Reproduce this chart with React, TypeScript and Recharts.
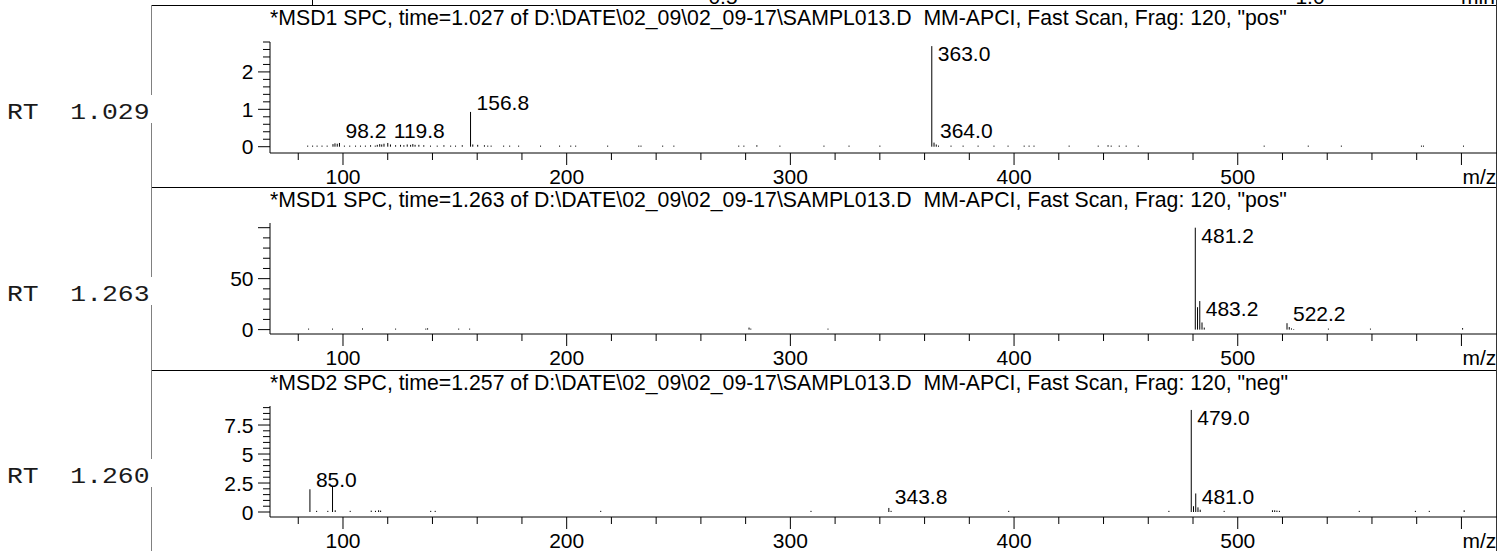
import React from 'react';
import { BarChart, Bar, XAxis, YAxis, LabelList } from 'recharts';

// ---------- data ----------
const titles = [
  '*MSD1 SPC, time=1.027 of D:\\DATE\\02_09\\02_09-17\\SAMPL013.D  MM-APCI, Fast Scan, Frag: 120, "pos"',
  '*MSD1 SPC, time=1.263 of D:\\DATE\\02_09\\02_09-17\\SAMPL013.D  MM-APCI, Fast Scan, Frag: 120, "pos"',
  '*MSD2 SPC, time=1.257 of D:\\DATE\\02_09\\02_09-17\\SAMPL013.D  MM-APCI, Fast Scan, Frag: 120, "neg"',
];
const rtLabels = ['RT  1.029', 'RT  1.263', 'RT  1.260'];

const mzTicks = [80, 100, 120, 140, 160, 180, 200, 220, 240, 260, 280, 300, 320, 340, 360, 380, 400, 420, 440, 460, 480, 500, 520, 540, 560, 580, 600];
const mzLabelTicks = [100, 200, 300, 400, 500];

// panel 1 (pos, time 1.027)
const spec1Mz = [84.0, 86.2, 88.2, 90.4, 92.7, 95.3, 96.2, 97.2, 98.2, 100.4, 102.8, 105.4, 107.6, 109.8, 112.1, 114.2, 115.1, 116.2, 117.1, 118.1, 119.8, 121.0, 123.3, 125.5, 127.0, 128.5, 130.0, 131.0, 132.0, 133.7, 135.9, 138.9, 141.9, 144.9, 147.9, 150.1, 153.1, 156.8, 157.8, 160.0, 163.0, 164.5, 166.0, 171.6, 174.3, 178.3, 188.1, 196.6, 201.6, 203.8, 218.1, 232.0, 233.0, 242.7, 247.7, 276.7, 279.0, 284.8, 295.1, 314.8, 326.0, 339.8, 363.0, 364.0, 365.0, 366.0, 371.6, 377.0, 383.7, 390.8, 397.1, 404.3, 406.5, 408.7, 424.4, 437.4, 441.8, 443.2, 446.8, 449.9, 455.3, 511.6, 531.3, 546.1, 581.9, 582.8, 600.7];
const spec1Int = [0.03, 0.03, 0.03, 0.03, 0.03, 0.07, 0.09, 0.08, 0.1, 0.03, 0.03, 0.03, 0.03, 0.03, 0.04, 0.03, 0.05, 0.07, 0.06, 0.08, 0.1, 0.06, 0.04, 0.05, 0.04, 0.06, 0.05, 0.07, 0.05, 0.05, 0.04, 0.03, 0.03, 0.04, 0.03, 0.03, 0.04, 0.93, 0.06, 0.05, 0.04, 0.03, 0.03, 0.03, 0.03, 0.03, 0.03, 0.03, 0.03, 0.03, 0.03, 0.03, 0.03, 0.03, 0.03, 0.03, 0.03, 0.04, 0.03, 0.03, 0.03, 0.03, 2.69, 0.11, 0.06, 0.03, 0.03, 0.03, 0.03, 0.03, 0.03, 0.03, 0.03, 0.03, 0.03, 0.03, 0.04, 0.03, 0.03, 0.03, 0.03, 0.03, 0.03, 0.03, 0.03, 0.03, 0.03];
const spec1Labels = ['98.2', '119.8', '156.8', '363.0', '364.0'];

// panel 2 (pos, time 1.263)
const spec2Mz = [84.8, 95.5, 108.9, 123.7, 137.2, 138.0, 151.9, 156.8, 281.7, 282.5, 317.0, 481.2, 482.2, 483.2, 484.2, 485.2, 522.2, 523.2, 524.2, 525.2, 540.7, 559.5, 600.7];
const spec2Int = [1, 1, 1.2, 1, 1, 1.3, 1, 1, 2, 1, 1, 100, 22, 28, 7, 2, 6.3, 2.5, 1.2, 0.6, 1, 1, 1.5];
const spec2Labels = ['481.2', '483.2', '522.2'];

// panel 3 (neg, time 1.257)
const spec3Mz = [85.0, 88.0, 93.0, 95.1, 96.3, 103.0, 112.4, 114.3, 115.7, 116.6, 139.0, 141.0, 215.0, 309.0, 343.8, 344.8, 397.4, 469.0, 479.0, 480.0, 481.0, 482.0, 483.0, 493.7, 515.3, 516.3, 517.3, 518.4, 554.1, 579.2, 585.4, 601.0];
const spec3Int = [1.96, 0.1, 0.1, 2.22, 0.15, 0.1, 0.12, 0.1, 0.15, 0.12, 0.1, 0.1, 0.1, 0.1, 0.35, 0.1, 0.1, 0.1, 8.8, 0.5, 1.6, 0.4, 0.2, 0.1, 0.15, 0.15, 0.12, 0.1, 0.1, 0.1, 0.1, 0.15];
const spec3Labels = ['85.0', '343.8', '479.0', '481.0'];

const yTicks1 = [0, 0.2, 0.4, 0.6, 0.8, 1, 1.2, 1.4, 1.6, 1.8, 2, 2.2, 2.4, 2.6, 2.8];
const yMajor1 = [0, 1, 2];
const yLabels1 = [0, 1, 2];
const yTicks2 = [0, 10, 20, 30, 40, 50, 60, 70, 80, 90, 100];
const yMajor2 = [0, 50, 100];
const yLabels2 = [0, 50];
const yTicks3 = [0, 0.5, 1, 1.5, 2, 2.5, 3, 3.5, 4, 4.5, 5, 5.5, 6, 6.5, 7, 7.5, 8, 8.5, 9];
const yMajor3 = [0, 2.5, 5, 7.5];
const yLabels3 = [0, 2.5, 5, 7.5];

const yDomains: [number, number][] = [[-0.168, 2.8], [-4.3, 104.6], [-0.43, 9.14]];

// labels placed above their peak top
const raisedLabels = ['156.8', '85.0'];

// cut-off chromatogram axis labels at the very top
const topFragments = [
  { text: '0.5', x: 723 },
  { text: '1.0', x: 1310 },
  { text: 'min', x: 1478 },
];

// ---------- layout ----------
const FONT = '"Liberation Sans", Arial, sans-serif';
const FS = 21;
const TITLE_FS = 21.25;
const PANEL_BORDERS = [5, 187, 370];
const CHART_TOPS = [5, 186, 369];
const RT_BASELINES = [119, 301, 483];
const CHART_LEFT = 152;
const CHART_W = 1345;
const CHART_H = 182;

function buildData(mz: number[], intensity: number[], labels: string[]) {
  return mz.map((m, i) => {
    const tag = labels.find((l) => Math.abs(parseFloat(l) - m) < 0.05) || '';
    return { mz: m, intensity: intensity[i], tag };
  });
}

const panels = [
  { data: buildData(spec1Mz, spec1Int, spec1Labels), ticks: yTicks1, major: yMajor1, labels: yLabels1 },
  { data: buildData(spec2Mz, spec2Int, spec2Labels), ticks: yTicks2, major: yMajor2, labels: yLabels2 },
  { data: buildData(spec3Mz, spec3Int, spec3Labels), ticks: yTicks3, major: yMajor3, labels: yLabels3 },
];

const StickShape = (props: any) => {
  const { x, y, width, height } = props;
  if (height == null || isNaN(height)) return null;
  const cx = x + width / 2;
  return <line x1={cx} x2={cx} y1={y} y2={y + height} stroke="#000" strokeWidth={1} />;
};

const PeakLabel = (props: any) => {
  const { x, y, width, height, value } = props;
  if (!value) return null;
  const cx = x + width / 2;
  const top = y;
  const base = y + height;
  const bottom = raisedLabels.includes(value) ? top - 2 : Math.min(top + 15, base - 8.5);
  return (
    <text x={cx + 6} y={bottom} fontFamily={FONT} fontSize={FS} fill="#000">
      {value}
    </text>
  );
};

const XTick = (props: any) => {
  const { x, y, payload } = props;
  const v = payload.value;
  const major = v % 100 === 0;
  return (
    <g>
      <line x1={x} x2={x} y1={y} y2={y + (major ? 12 : 7)} stroke="#000" strokeWidth={1} />
      {mzLabelTicks.includes(v) && (
        <text x={x} y={y + 30.5} textAnchor="middle" fontFamily={FONT} fontSize={FS} fill="#000">
          {v}
        </text>
      )}
      {v === 600 && (
        <text x={x + 1} y={y + 30.5} textAnchor="start" fontFamily={FONT} fontSize={FS} fill="#000">
          m/z
        </text>
      )}
    </g>
  );
};

const makeYTick = (major: number[], labels: number[]) => (props: any) => {
  const { x, y, payload } = props;
  const v = payload.value;
  const isMajor = major.some((m) => Math.abs(m - v) < 1e-6);
  const hasLabel = labels.some((m) => Math.abs(m - v) < 1e-6);
  return (
    <g>
      <line x1={x - (isMajor ? 12 : 7)} x2={x} y1={y} y2={y} stroke="#000" strokeWidth={1} />
      {hasLabel && (
        <text x={x - 16.5} y={y + 7.5} textAnchor="end" fontFamily={FONT} fontSize={FS} fill="#000">
          {String(v)}
        </text>
      )}
    </g>
  );
};

function Panel({ index }: { index: number }) {
  const p = panels[index];
  const YTick = makeYTick(p.major, p.labels);
  return (
    <div style={{ position: 'absolute', left: CHART_LEFT, top: CHART_TOPS[index] }}>
      <BarChart
        width={CHART_W}
        height={CHART_H}
        data={p.data}
        margin={{ top: 37, right: 0, bottom: 0, left: 0 }}
        barSize={1}
      >
        <XAxis
          type="number"
          dataKey="mz"
          domain={[67.37, 615.9]}
          allowDataOverflow
          ticks={mzTicks}
          interval={0}
          height={34}
          tickSize={0}
          tickMargin={0}
          tickLine={false}
          axisLine={{ stroke: '#000', strokeWidth: 1 }}
          tick={<XTick />}
        />
        <YAxis
          type="number"
          domain={yDomains[index]}
          allowDataOverflow
          ticks={p.ticks}
          interval={0}
          width={118}
          tickSize={0}
          tickMargin={0}
          tickLine={false}
          axisLine={{ stroke: '#000', strokeWidth: 1 }}
          tick={<YTick />}
        />
        <Bar dataKey="intensity" isAnimationActive={false} shape={<StickShape />}>
          <LabelList dataKey="tag" content={<PeakLabel />} />
        </Bar>
      </BarChart>
    </div>
  );
}

export default function App() {
  return (
    <div
      style={{
        position: 'absolute',
        left: 0,
        top: 0,
        width: 1503,
        height: 551,
        background: '#fff',
        overflow: 'hidden',
      }}
    >
      <svg width={1503} height={551} style={{ position: 'absolute', left: 0, top: 0 }}>
        {topFragments.map((f) => (
          <text key={f.text} x={f.x} y={4} textAnchor="middle" fontFamily={FONT} fontSize={FS} fill="#000">
            {f.text}
          </text>
        ))}
        <line x1={312.5} x2={312.5} y1={0} y2={5} stroke="#000" />
        {PANEL_BORDERS.map((b) => (
          <line key={b} x1={152} x2={1497} y1={b + 0.5} y2={b + 0.5} stroke="#000" />
        ))}
        <line x1={1496.5} x2={1496.5} y1={0} y2={551} stroke="#333" />
        <line x1={151.5} x2={151.5} y1={5} y2={551} stroke="#808080" />
        {titles.map((t, i) => (
          <text
            key={i}
            x={270}
            y={PANEL_BORDERS[i] + 20}
            fontFamily={FONT}
            fontSize={TITLE_FS}
            fill="#000"
            style={{ whiteSpace: 'pre' }}
          >
            {t}
          </text>
        ))}
      </svg>
      {panels.map((_, i) => (
        <Panel key={i} index={i} />
      ))}
      <svg width={160} height={551} style={{ position: 'absolute', left: 0, top: 0 }}>
        {rtLabels.map((t, i) => (
          <g key={i}>
            <rect x={0} y={RT_BASELINES[i] - 24} width={153} height={28} fill="#fff" />
            <text
              x={0}
              y={0}
              transform={`translate(7, ${RT_BASELINES[i]}) scale(1.2, 1)`}
              fontFamily='"Liberation Mono", "Courier New", monospace'
              fontSize={22}
              fill="#1a1a1a"
              style={{ whiteSpace: 'pre' }}
            >
              {t}
            </text>
          </g>
        ))}
      </svg>
    </div>
  );
}
